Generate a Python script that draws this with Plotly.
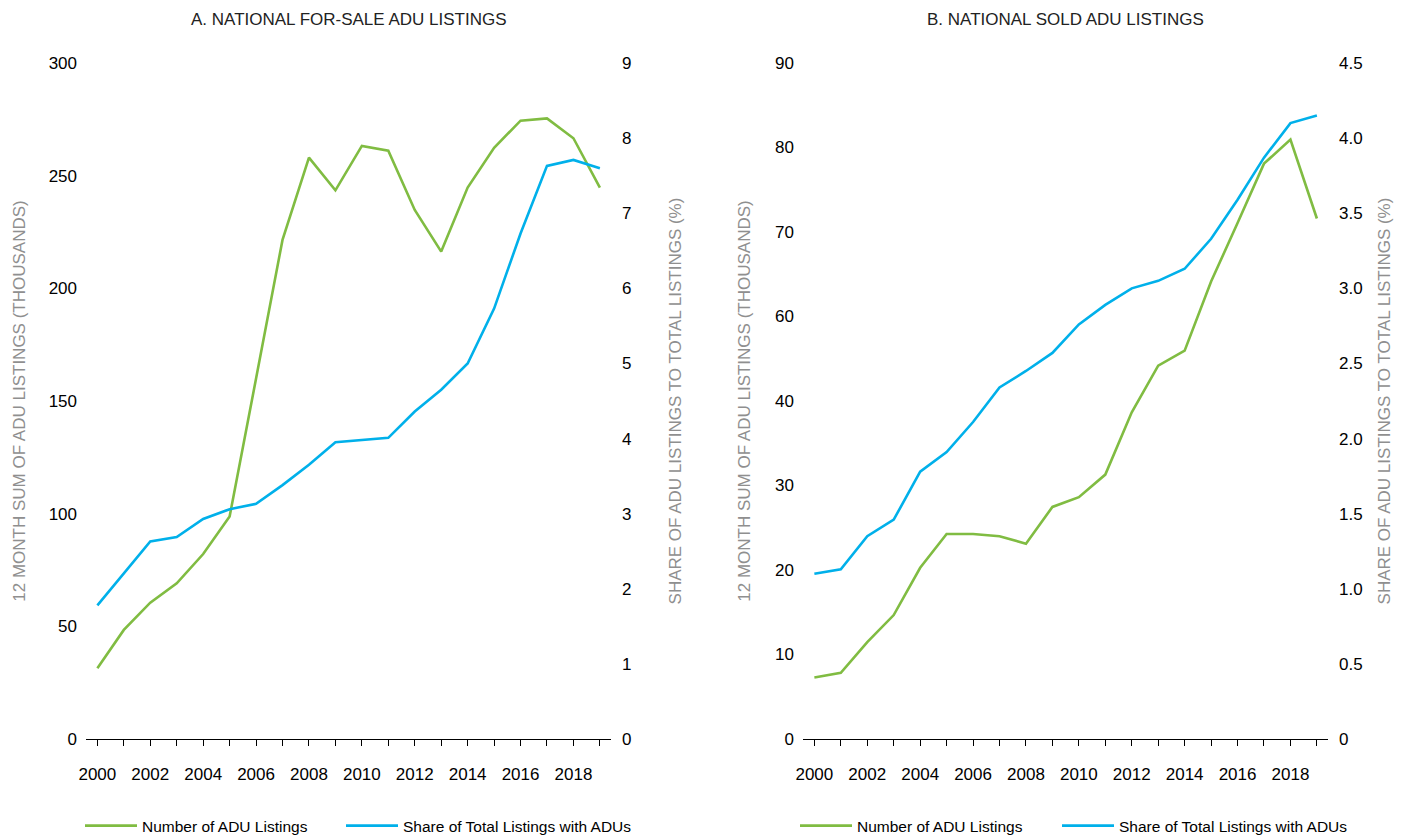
import plotly.graph_objects as go

years = list(range(2000, 2020))

# Panel A: national for-sale ADU listings
forsale_count = [31.4, 48.4, 60.5, 69.1, 82.1, 98.7, 160.0, 221.5, 258.0, 243.5,
                 263.2, 261.1, 234.8, 216.3, 244.7, 262.4, 274.4, 275.4, 266.6, 244.7]
forsale_share = [1.78, 2.21, 2.63, 2.69, 2.93, 3.06, 3.13, 3.38, 3.65, 3.95,
                 3.98, 4.01, 4.36, 4.65, 5.00, 5.73, 6.73, 7.63, 7.71, 7.60]

# Panel B: national sold ADU listings
sold_count = [8.2, 8.8, 12.9, 16.5, 22.8, 27.3, 27.3, 27.0, 26.0, 30.9,
              32.2, 35.2, 43.5, 49.7, 51.7, 60.9, 68.7, 76.6, 79.8, 69.3]
sold_share = [1.10, 1.13, 1.35, 1.46, 1.78, 1.91, 2.11, 2.34, 2.45, 2.57,
              2.76, 2.89, 3.00, 3.05, 3.13, 3.33, 3.59, 3.87, 4.10, 4.15]

# Tick labels as printed on the chart
a_left_ticks = ["0", "50", "100", "150", "200", "250", "300"]
a_right_ticks = ["0", "1", "2", "3", "4", "5", "6", "7", "8", "9"]
b_left_ticks = ["0", "10", "20", "30", "40", "60", "70", "80", "90"]
b_right_ticks = ["0", "0.5", "1.0", "1.5", "2.0", "2.5", "3.0", "3.5", "4.0", "4.5"]

titles = ["A. NATIONAL FOR-SALE ADU LISTINGS", "B. NATIONAL SOLD ADU LISTINGS"]
left_title = "12 MONTH SUM OF ADU LISTINGS (THOUSANDS)"
right_title = "SHARE OF ADU LISTINGS TO TOTAL LISTINGS (%)"
series_names = ["Number of ADU Listings", "Share of Total Listings with ADUs"]

GREEN = "#80BC42"
BLUE = "#00B0EA"
FONT = "Liberation Sans, Arial, sans-serif"
GRAY = "#8f8f8f"

W, H = 1411, 837

fig = go.Figure()

fig.add_trace(go.Scatter(x=years, y=forsale_count, name=series_names[0], mode="lines",
                         line=dict(color=GREEN, width=2.6), xaxis="x", yaxis="y",
                         legend="legend"))
fig.add_trace(go.Scatter(x=years, y=forsale_share, name=series_names[1], mode="lines",
                         line=dict(color=BLUE, width=2.6), xaxis="x", yaxis="y2",
                         legend="legend2"))
fig.add_trace(go.Scatter(x=years, y=sold_count, name=series_names[0], mode="lines",
                         line=dict(color=GREEN, width=2.6), xaxis="x2", yaxis="y3",
                         legend="legend3"))
fig.add_trace(go.Scatter(x=years, y=sold_share, name=series_names[1], mode="lines",
                         line=dict(color=BLUE, width=2.6), xaxis="x2", yaxis="y4",
                         legend="legend4"))

xa = (86 / W, 611 / W)
xb = (803 / W, 1328 / W)
yd = (1 - 739 / H, 1 - 63 / H)

xcommon = dict(range=[1999.57, 2019.42], tick0=2000, dtick=2, ticks="outside", ticklen=6,
               tickcolor="black", showline=True, linecolor="black", linewidth=1,
               showgrid=False, zeroline=False, ticklabelstandoff=14, automargin=False,
               tickfont=dict(size=17, color="black", family=FONT),
               minor=dict(dtick=1, ticks="outside", ticklen=6, tickcolor="black",
                          showgrid=False))

ycommon = dict(showgrid=False, zeroline=False, showline=False, ticks="", automargin=False,
               tickfont=dict(size=17, color="black", family=FONT))


def ytitle(text, standoff):
    return dict(text=text, font=dict(size=17, color=GRAY, family=FONT), standoff=standoff)


def legend_at(px):
    return dict(orientation="h", x=px / W, y=1 - 826 / H, xanchor="left", yanchor="middle",
                font=dict(size=15.5, color="black", family=FONT), bgcolor="rgba(0,0,0,0)",
                itemwidth=52)


fig.update_layout(
    width=W, height=H,
    margin=dict(l=0, r=0, t=0, b=0, autoexpand=False),
    paper_bgcolor="white", plot_bgcolor="white",
    font=dict(family=FONT, size=17, color="black"),
    showlegend=True,
    xaxis=dict(domain=xa, anchor="y", **xcommon),
    xaxis2=dict(domain=xb, anchor="y3", **xcommon),
    yaxis=dict(domain=yd, anchor="x", range=[0, 300],
               tickvals=[0, 50, 100, 150, 200, 250, 300], ticktext=a_left_ticks,
               ticklabelstandoff=8, title=ytitle(left_title, 18), **ycommon),
    yaxis2=dict(domain=yd, anchor="x", overlaying="y", side="right", range=[0, 9],
                tickvals=list(range(10)), ticktext=a_right_ticks,
                ticklabelstandoff=10, title=ytitle(right_title, 38), **ycommon),
    yaxis3=dict(domain=yd, anchor="x2", range=[0, 90],
                tickvals=[i * 90 / 8 for i in range(9)], ticktext=b_left_ticks,
                ticklabelstandoff=8, title=ytitle(left_title, 20), **ycommon),
    yaxis4=dict(domain=yd, anchor="x2", overlaying="y3", side="right", range=[0, 4.5],
                tickvals=[i * 0.5 for i in range(10)], ticktext=b_right_ticks,
                ticklabelstandoff=10, title=ytitle(right_title, 16), **ycommon),
    legend=legend_at(80),
    legend2=legend_at(341),
    legend3=legend_at(795),
    legend4=legend_at(1057),
    annotations=[
        dict(text=titles[0], x=(xa[0] + xa[1]) / 2, y=1 - 19 / H, xref="paper", yref="paper",
             showarrow=False, xanchor="center", yanchor="middle",
             font=dict(size=17, color="#222222", family=FONT)),
        dict(text=titles[1], x=(xb[0] + xb[1]) / 2, y=1 - 19 / H, xref="paper", yref="paper",
             showarrow=False, xanchor="center", yanchor="middle",
             font=dict(size=17, color="#222222", family=FONT)),
    ],
)

fig.write_html("out.html",
               config={"displayModeBar": False},
               post_script="document.body.style.margin='0px';"
                           "document.body.style.overflow='hidden';")
